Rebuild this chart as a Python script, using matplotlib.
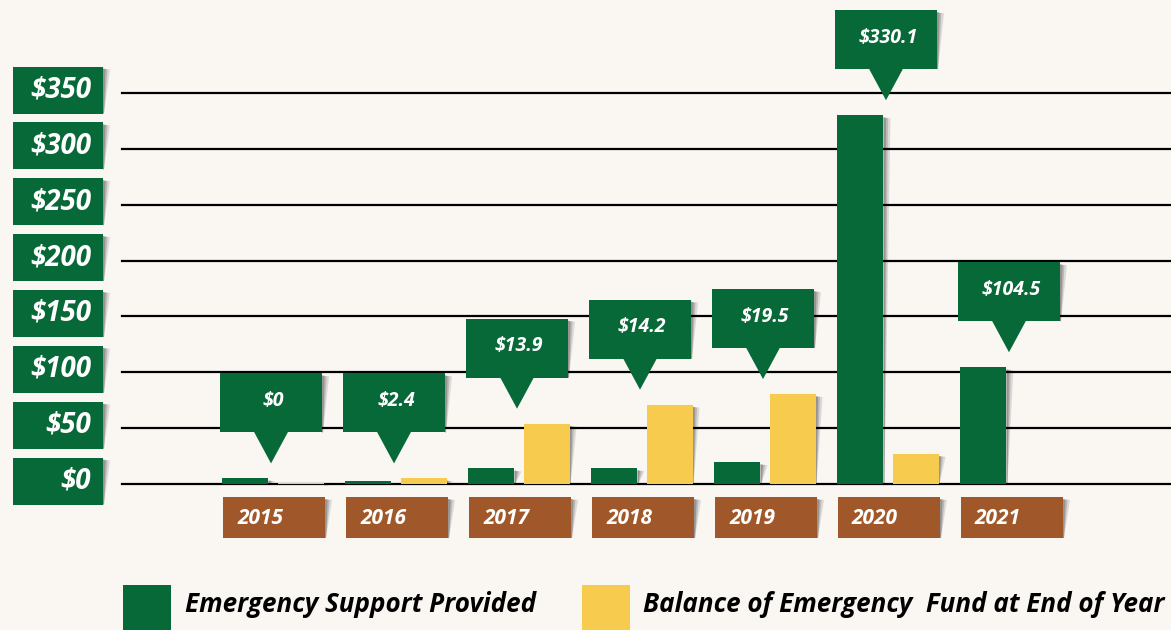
import numpy as np
import matplotlib.pyplot as plt
from matplotlib.patches import Rectangle, Polygon
from matplotlib import transforms

# data (millions of dollars)
years = ['2015', '2016', '2017', '2018', '2019', '2020', '2021']
support = [5, 2.4, 13.9, 14.2, 19.5, 330.1, 104.5]
balance = [1, 5, 54, 71, 80.5, 27, 0]
callout_labels = ['$0', '$2.4', '$13.9', '$14.2', '$19.5', '$330.1', '$104.5']
y_ticks = [0, 50, 100, 150, 200, 250, 300, 350]
legend_labels = ['Emergency Support Provided', 'Balance of Emergency  Fund at End of Year']

GREEN = '#076838'
YELLOW = '#F7CB4D'
BROWN = '#A0582A'
BG = '#FAF7F3'

plt.rcParams['font.family'] = ['Open Sans', 'DejaVu Sans']

W, H = 1171, 630
fig = plt.figure(figsize=(W / 100, H / 100), dpi=100, facecolor=BG)
ax = fig.add_axes([122 / W, (H - 484) / H, (W - 122) / W, 391 / H])
ax.set_facecolor(BG)
ax.set_xlim(-1.228, 7.301)
ax.set_ylim(0, 350)
ax.axis('off')

# pixel -> data unit helpers
sx = 123.0
sy = 391.0 / 350.0
def px(p):
    return p / sx
def py(p):
    return p / sy


def shadow(a, x_right, y_top, y_bot, xs, ys, trans=None):
    # soft gray wedge on the right side of a box
    for w, alpha in [(7, 0.18), (4.5, 0.25), (2.5, 0.35)]:
        pts = [(x_right, y_top - ys(2)), (x_right + xs(w), y_top - ys(3)),
               (x_right + xs(1), y_bot), (x_right, y_bot)]
        poly = Polygon(pts, closed=True, color='#555555', alpha=alpha, lw=0,
                       clip_on=False, zorder=1)
        if trans is not None:
            poly.set_transform(trans)
        a.add_patch(poly)


x = np.arange(len(years))
bw = 46 / sx
off = 0.224

# grid lines
for t in y_ticks:
    ax.axhline(t, color='black', lw=1.6, zorder=2, clip_on=False)

g = ax.bar(x - off, support, width=bw, color=GREEN, zorder=3)
b = ax.bar(x + off, balance, width=bw, color=YELLOW, zorder=3)
for bars in (g, b):
    for r in bars:
        if r.get_height() > 0:
            shadow(ax, r.get_x() + r.get_width(), r.get_height(), 0, px, py)

# callouts
for i in range(len(years)):
    cx = x[i] - px(2)
    tip = max(support[i], balance[i]) + py(15)
    bot = tip + py(31)
    top = bot + py(59)
    left, right = cx - px(51), cx + px(51)
    shadow(ax, right, top, bot, px, py)
    ax.add_patch(Rectangle((left, bot), right - left, top - bot, color=GREEN,
                           lw=0, zorder=4, clip_on=False))
    ax.add_patch(Polygon([(cx - px(17), bot + py(0.5)), (cx + px(17), bot + py(0.5)), (cx, tip)],
                         closed=True, color=GREEN, lw=0, zorder=4, clip_on=False))
    ax.text(cx + px(2), (top + bot) / 2 + py(2), callout_labels[i], color='white',
            fontsize=14, fontweight='bold', fontstyle='italic',
            ha='center', va='center', zorder=5, clip_on=False)

# year boxes
for i, yr in enumerate(years):
    left = x[i] - px(50)
    right = x[i] + px(52)
    top, bot = -py(13), -py(54)
    shadow(ax, right, top, bot, px, py)
    ax.add_patch(Rectangle((left, bot), right - left, top - bot, color=BROWN,
                           lw=0, zorder=4, clip_on=False))
    ax.text(left + px(14), (top + bot) / 2 - py(1), yr, color='white', fontsize=15,
            fontweight='bold', fontstyle='italic', ha='left', va='center',
            zorder=5, clip_on=False)

# y tick boxes (x in figure fraction, y in data)
bt = transforms.blended_transform_factory(fig.transFigure, ax.transData)
fx = lambda p: p / W
for t in y_ticks:
    cy = t + py(3)
    top, bot = cy + py(23.5), cy - py(23.5)
    shadow(ax, fx(103), top, bot, fx, py, trans=bt)
    ax.add_patch(Rectangle((fx(13), bot), fx(90), top - bot, color=GREEN, lw=0,
                           transform=bt, zorder=4, clip_on=False))
    ax.text(fx(91), cy, f'${t}', transform=bt, color='white', fontsize=20,
            fontweight='bold', fontstyle='italic', ha='right', va='center',
            zorder=5, clip_on=False)

# legend
for (x0, col, lab, tx) in [(123, GREEN, legend_labels[0], 185), (582, YELLOW, legend_labels[1], 643)]:
    fig.patches.append(Rectangle((x0 / W, (H - 634) / H), 48 / W, 49 / H, color=col, lw=0,
                                 transform=fig.transFigure, figure=fig))
    fig.text(tx / W, (H - 605) / H, lab, color='black', fontsize=18.7, fontweight='bold',
             fontstyle='italic', ha='left', va='center')

fig.savefig('out.png', dpi=100, facecolor=BG)
